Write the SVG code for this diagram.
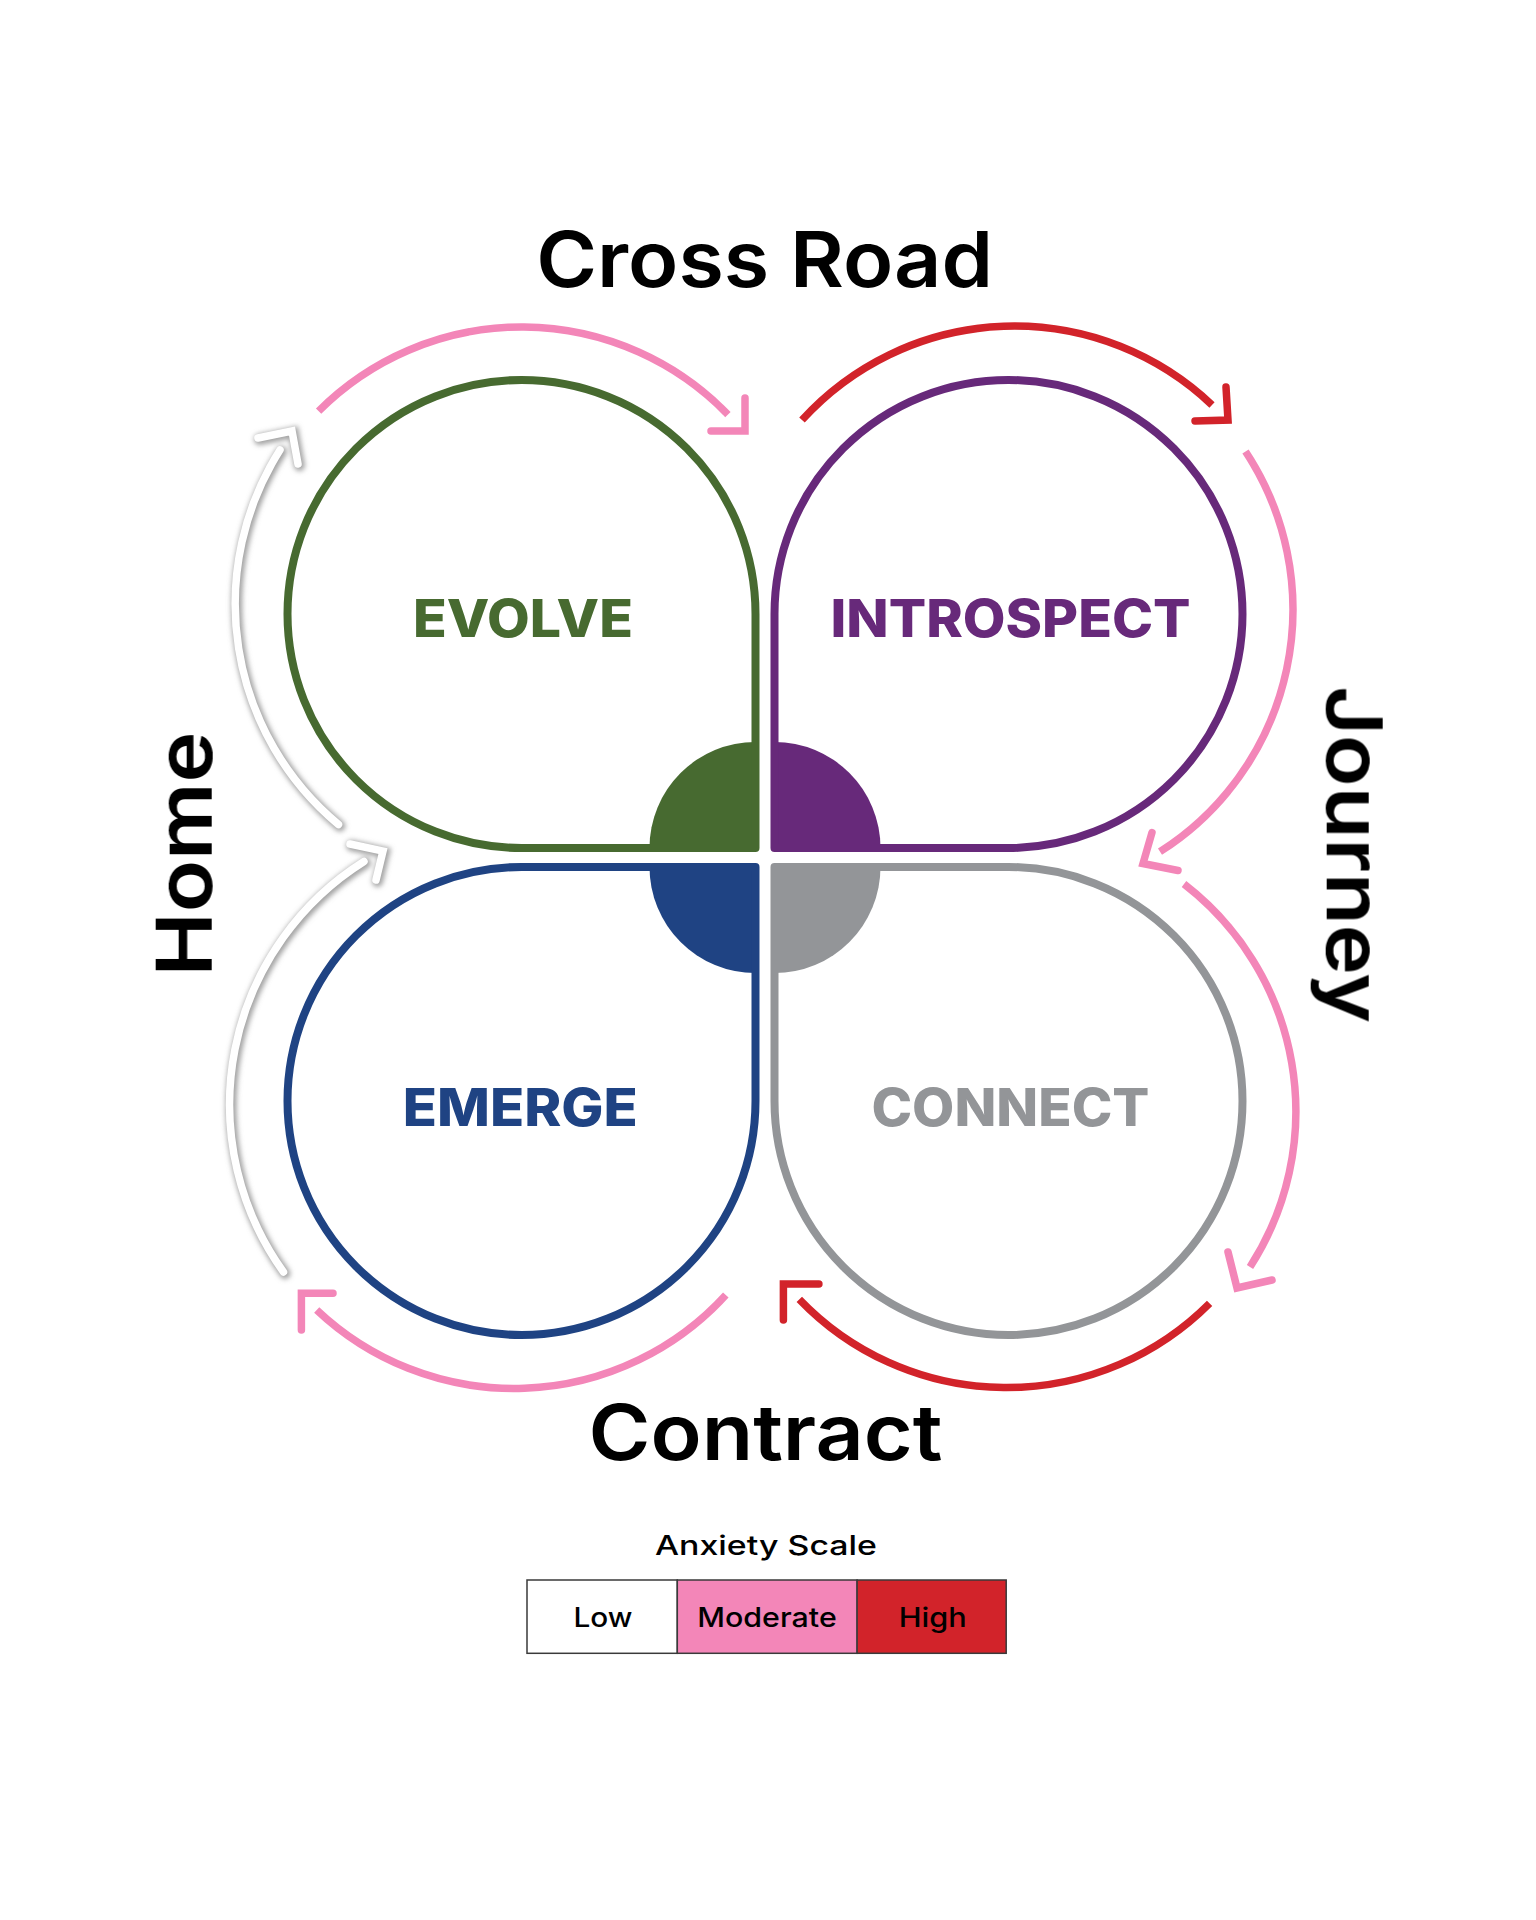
<svg xmlns="http://www.w3.org/2000/svg" width="1536" height="1920" viewBox="0 0 1536 1920">
<defs>
<style>
.lobe{fill:none;stroke-width:8;stroke-linejoin:round}
.disc{stroke:none}
.arc{fill:none;stroke-width:7.5;stroke-linecap:butt}
.head{fill:none;stroke-width:7.5;stroke-linecap:round;stroke-linejoin:miter}
.pink{stroke:#F386B8}
.red{stroke:#D2232A}
.white{stroke:#ffffff;stroke-linecap:round}
.shadow{fill:none;stroke:#8c8c8c;stroke-width:11;stroke-linecap:round;opacity:0.8}
.title{font-family:Inter,'Noto Sans','Liberation Sans',sans-serif;font-weight:600;font-size:77px;fill:#000}
.label{font-family:Inter,'Noto Sans','Liberation Sans',sans-serif;font-weight:800;font-size:52px}
.leg{font-family:Inter,'Noto Sans','Liberation Sans',sans-serif;font-weight:500;font-size:27px;fill:#000}
.cell{stroke:#3a3a3a;stroke-width:1.5}
</style>
<filter id="blur" x="-20%" y="-20%" width="140%" height="140%">
<feGaussianBlur stdDeviation="2.6"/>
</filter>
</defs>
<rect width="1536" height="1920" fill="#ffffff"/>

<g id="node-evolve">
<path class="disc" fill="#476A30" d="M755.5 848 L649.5 848 A106 106 0 0 1 755.5 742 Z"/>
<path class="lobe" stroke="#476A30" d="M521.5 848 A234 234 0 1 1 755.5 614 L755.5 848 Z"/>
<text class="label" fill="#476A30" x="523" y="636.5" text-anchor="middle" textLength="220" lengthAdjust="spacingAndGlyphs">EVOLVE</text>
</g>

<g id="node-introspect">
<path class="disc" fill="#67297A" d="M774.5 848 L774.5 742 A106 106 0 0 1 880.5 848 Z"/>
<path class="lobe" stroke="#67297A" d="M774.5 614 A234 234 0 1 1 1008.5 848 L774.5 848 Z"/>
<text class="label" fill="#67297A" x="1010.5" y="636.5" text-anchor="middle" textLength="360" lengthAdjust="spacingAndGlyphs">INTROSPECT</text>
</g>

<g id="node-emerge">
<path class="disc" fill="#1F4383" d="M755.5 867 L755.5 973 A106 106 0 0 1 649.5 867 Z"/>
<path class="lobe" stroke="#1F4383" d="M755.5 1101 A234 234 0 1 1 521.5 867 L755.5 867 Z"/>
<text class="label" fill="#1F4383" x="520.3" y="1125.5" text-anchor="middle" textLength="235" lengthAdjust="spacingAndGlyphs">EMERGE</text>
</g>

<g id="node-connect">
<path class="disc" fill="#939598" d="M774.5 867 L880.5 867 A106 106 0 0 1 774.5 973 Z"/>
<path class="lobe" stroke="#939598" d="M1008.5 867 A234 234 0 1 1 774.5 1101 L774.5 867 Z"/>
<text class="label" fill="#939598" x="1010.4" y="1125.5" text-anchor="middle" textLength="278" lengthAdjust="spacingAndGlyphs">CONNECT</text>
</g>

<g id="connectors">
<g id="white-shadows" filter="url(#blur)" transform="translate(1.5,1.5)">
<path class="shadow" d="M338.5 824.5 A287 287 0 0 1 280 450"/>
<path class="shadow" d="M298 464 L292 431 L258 438"/>
<path class="shadow" d="M283.5 1272 A287 287 0 0 1 364 861.5"/>
<path class="shadow" d="M376 880 L383 851 L350 844"/>
</g>
<g id="arrow-home-upper">
<path class="arc white" d="M338.5 824.5 A287 287 0 0 1 280 450"/>
<path class="head white" d="M298 464 L292 431 L258 438"/>
</g>
<g id="arrow-home-lower">
<path class="arc white" d="M283.5 1272 A287 287 0 0 1 364 861.5"/>
<path class="head white" d="M376 880 L383 851 L350 844"/>
</g>
<g id="arrow-crossroad-left">
<path class="arc pink" d="M318.6 411.1 A287 287 0 0 1 727.9 414.6"/>
<path class="head pink" d="M745 398 L745 431 L711 431"/>
</g>
<g id="arrow-crossroad-right">
<path class="arc red" d="M802 420 A287 287 0 0 1 1212 405"/>
<path class="head red" d="M1226 387 L1228 420 L1195 421"/>
</g>
<g id="arrow-journey-upper">
<path class="arc pink" d="M1245.5 451.5 A287 287 0 0 1 1160 851.7"/>
<path class="head pink" d="M1152 832.5 L1143 863.5 L1178 870.5"/>
</g>
<g id="arrow-journey-lower">
<path class="arc pink" d="M1184 884 A287 287 0 0 1 1250 1267"/>
<path class="head pink" d="M1228 1252 L1237 1288 L1272 1280"/>
</g>
<g id="arrow-contract-right">
<path class="arc red" d="M1209.6 1303.3 A287 287 0 0 1 799.3 1299.3"/>
<path class="head red" d="M783.4 1320 L783.4 1284 L818.9 1284"/>
</g>
<g id="arrow-contract-left">
<path class="arc pink" d="M725.8 1295 A287 287 0 0 1 316.7 1310"/>
<path class="head pink" d="M301.4 1330 L301.4 1293.3 L333 1293.3"/>
</g>
</g>

<g id="titles">
<text class="title" x="764.7" y="286.7" text-anchor="middle" textLength="457" lengthAdjust="spacingAndGlyphs">Cross Road</text>
<text class="title" x="765.5" y="1460" text-anchor="middle" textLength="354" lengthAdjust="spacingAndGlyphs">Contract</text>
<text class="title" transform="translate(211.7,854) rotate(-90)" x="0" y="0" text-anchor="middle" textLength="245" lengthAdjust="spacingAndGlyphs">Home</text>
<text class="title" transform="translate(1326.7,854.5) rotate(90)" x="0" y="0" text-anchor="middle" textLength="337" lengthAdjust="spacingAndGlyphs">Journey</text>
</g>

<g id="legend">
<text class="leg" x="766" y="1555" text-anchor="middle" textLength="222" lengthAdjust="spacingAndGlyphs">Anxiety Scale</text>
<rect class="cell" x="527" y="1580" width="150.3" height="73.3" fill="#ffffff"/>
<rect class="cell" x="677.3" y="1580" width="179.8" height="73.3" fill="#F386B8"/>
<rect class="cell" x="857.1" y="1580" width="149.1" height="73.3" fill="#D2232A"/>
<text class="leg" x="603" y="1627.3" text-anchor="middle" textLength="59" lengthAdjust="spacingAndGlyphs">Low</text>
<text class="leg" x="767" y="1627.3" text-anchor="middle" textLength="139.5" lengthAdjust="spacingAndGlyphs">Moderate</text>
<text class="leg" x="932.7" y="1627.3" text-anchor="middle" textLength="68" lengthAdjust="spacingAndGlyphs">High</text>
</g>
</svg>
